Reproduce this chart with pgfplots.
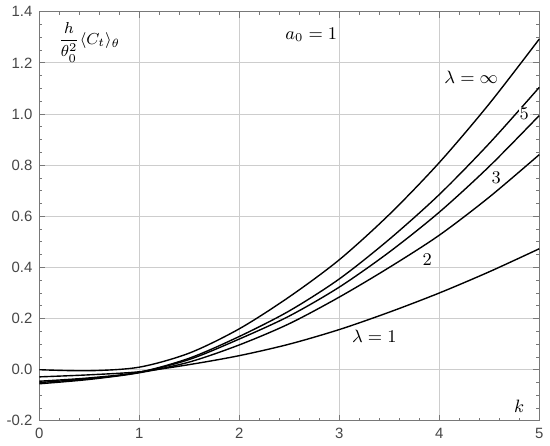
\documentclass[border=0pt]{standalone}
\usepackage{pgfplots}
\pgfplotsset{compat=1.18}
\usepackage{fontspec}
\setmainfont{Liberation Sans}
\definecolor{framegray}{RGB}{120,120,120}
\definecolor{gridgray}{RGB}{205,205,205}
\definecolor{ticktext}{RGB}{70,70,70}

\begin{document}
\begin{tikzpicture}
\begin{axis}[
    width=250.5bp, height=205bp,
    scale only axis,
    xmin=0, xmax=5, ymin=-0.2, ymax=1.4,
    xtick={0,1,2,3,4,5},
    ytick={-0.2,0,0.2,0.4,0.6,0.8,1.0,1.2,1.4},
    minor x tick num=4,
    minor y tick num=3,
    tick align=inside,
    ticks=both,
    major tick length=3pt,
    minor tick length=1.5pt,
    axis line style={framegray, line width=0.6pt},
    every tick/.style={framegray, line width=0.4pt},
    grid=major,
    major grid style={gridgray, line width=0.5pt},
    yticklabel style={/pgf/number format/.cd, fixed, fixed zerofill, precision=1},
    xticklabel style={/pgf/number format/.cd, fixed, precision=0},
    /pgf/number format/assume math mode=true,
    tick label style={font=\fontsize{7.5}{8}\selectfont, text=ticktext},
    clip=false,
]

% lambda = infinity
\addplot[black, line width=0.7pt, smooth] coordinates {
    (0,0.000) (0.5,-0.004) (1,0.010) (1.5,0.065) (2,0.160) (2.5,0.285)
    (3,0.430) (3.5,0.607) (4,0.810) (4.5,1.040) (5,1.293)
};
% lambda = 5
\addplot[black, line width=0.7pt, smooth] coordinates {
    (0,-0.050) (0.5,-0.035) (1,-0.010) (1.5,0.045) (2,0.130) (2.5,0.230)
    (3,0.355) (3.5,0.510) (4,0.685) (4.5,0.885) (5,1.104)
};
% lambda = 3
\addplot[black, line width=0.7pt, smooth] coordinates {
    (0,-0.045) (0.5,-0.032) (1,-0.010) (1.5,0.040) (2,0.120) (2.5,0.210)
    (3,0.323) (3.5,0.460) (4,0.616) (4.5,0.795) (5,0.994)
};
% lambda = 2
\addplot[black, line width=0.7pt, smooth] coordinates {
    (0,-0.055) (0.5,-0.038) (1,-0.012) (1.5,0.030) (2,0.097) (2.5,0.180)
    (3,0.284) (3.5,0.400) (4,0.526) (4.5,0.675) (5,0.841)
};
% lambda = 1
\addplot[black, line width=0.7pt, smooth] coordinates {
    (0,-0.028) (0.5,-0.020) (1,-0.008) (1.5,0.020) (2,0.055) (2.5,0.100)
    (3,0.157) (3.5,0.225) (4,0.300) (4.5,0.383) (5,0.473)
};

\node[anchor=west, font=\fontsize{8}{9}\selectfont] at (axis cs:0.12,1.28)
    {$\displaystyle\frac{h}{\theta_0^2}\langle C_t\rangle_\theta$};
\node[font=\fontsize{9}{10}\selectfont] at (axis cs:2.72,1.31) {$a_0=1$};
\node[font=\fontsize{9}{10}\selectfont] at (axis cs:4.32,1.145) {$\lambda=\infty$};
\node[font=\fontsize{9}{10}\selectfont, fill=white, inner sep=0.5pt] at (axis cs:4.85,1.0) {$5$};
\node[font=\fontsize{9}{10}\selectfont, fill=white, inner sep=0.5pt] at (axis cs:4.57,0.75) {$3$};
\node[font=\fontsize{9}{10}\selectfont, fill=white, inner sep=0.5pt] at (axis cs:3.88,0.43) {$2$};
\node[font=\fontsize{9}{10}\selectfont] at (axis cs:3.35,0.13) {$\lambda=1$};
\node[font=\fontsize{9}{10}\selectfont] at (axis cs:4.8,-0.145) {$k$};

\end{axis}
\end{tikzpicture}
\end{document}
